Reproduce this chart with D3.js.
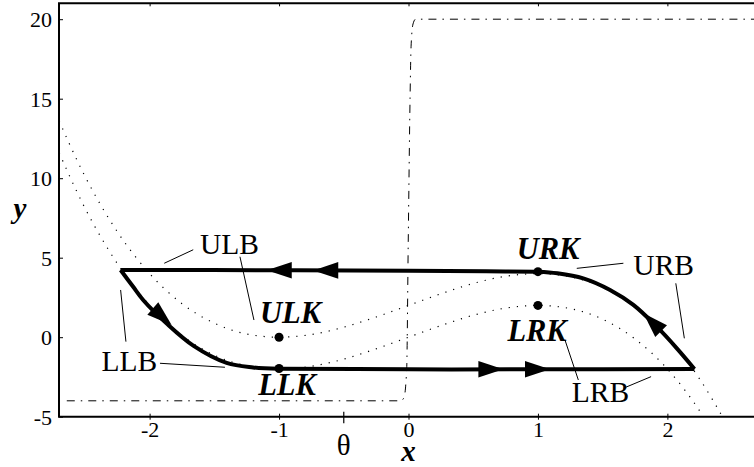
<!DOCTYPE html>
<html>
<head>
<meta charset="utf-8">
<script src="https://cdn.jsdelivr.net/npm/d3@7/dist/d3.min.js"></script>
<style>
  body { margin: 0; background: #fff; }
  svg { display: block; }
  text { font-family: "Liberation Serif", "Times New Roman", serif; fill: #000; }
</style>
</head>
<body>
<div id="chart"></div>
<script>
var xTicks = [-2, -1, 0, 1, 2];
var yTicks = [-5, 0, 5, 10, 15, 20];
var thetaTick = -0.5;

// dotted nullclines
var upperNull = [[-2.75, 14.55], [-2.5, 10.13], [-2.25, 6.64], [-2.0, 4.0], [-1.75, 2.11], [-1.5, 0.88],
  [-1.25, 0.2], [-1.0, 0.0], [-0.75, 0.17], [-0.5, 0.63], [-0.25, 1.27], [0, 2.0], [0.25, 2.73],
  [0.5, 3.38], [0.75, 3.83], [1.0, 4.0], [1.25, 3.8], [1.5, 3.13], [1.75, 1.89], [2.0, 0.0],
  [2.25, -2.64], [2.45, -5.35]];
var lowerNull = [[-2.75, 12.55], [-2.5, 8.13], [-2.25, 4.64], [-2.0, 2.0], [-1.75, 0.11], [-1.5, -1.13],
  [-1.25, -1.8], [-1.0, -2.0], [-0.75, -1.83], [-0.5, -1.38], [-0.25, -0.73], [0, 0.0], [0.25, 0.73],
  [0.5, 1.38], [0.75, 1.83], [1.0, 2.0], [1.25, 1.8], [1.5, 1.13], [1.75, -0.11], [2.0, -2.0],
  [2.25, -4.64], [2.35, -5.93]];

// dash-dot step
var stepCurve = [[-2.64, -4], [-0.06, -4], [-0.035, -3.8], [-0.014, -2], [-0.002, 6], [0.012, 15],
  [0.02, 18.3], [0.035, 19.7], [0.055, 20], [2.75, 20]];

// thick cycle, four pieces
var topEdge = [[1.0, 4.12], [0.6, 4.14], [0, 4.18], [-1, 4.21], [-2.224, 4.23]];
var leftBranch = [[-2.224, 4.23], [-2.13, 3.2], [-2.05, 2.34], [-1.87, 0.87], [-1.66, -0.55],
  [-1.405, -1.62], [-1.2, -1.9], [-1.0, -1.98]];
var bottomEdge = [[-1.0, -1.98], [0, -2.02], [1, -2.02], [2.209, -2.0]];
var rightBranch = [[2.209, -2.0], [2.073, -0.7], [1.918, 0.66], [1.737, 2.03], [1.557, 2.97],
  [1.35, 3.7], [1.15, 4.02], [1.0, 4.12]];

// arrow tip and a point behind it
var arrows = [[-1.095, 4.21, -0.9, 4.21], [-0.736, 4.2, -0.5, 4.2],
  [0.733, -2.02, 0.5, -2.02], [1.093, -2.02, 0.9, -2.02],
  [-1.83, 0.77, -2.05, 2.34], [1.815, 1.5, 1.918, 0.66]];

var points = [[-1, 0], [1, 4.12], [1, 2], [-1, -1.97]];

var kneeLabels = [["ULK", -1.147, 0.87], ["URK", 0.836, 4.9], ["LRK", 0.764, -0.22], ["LLK", -1.161, -3.64]];
var branchLabels = [["ULB", -1.611, 5.23], ["URB", 1.737, 3.91], ["LLB", -2.371, -2.11], ["LRB", 1.261, -4.06]];

var leaders = [
  [[-1.887, 4.65], [-1.663, 5.5]],
  [[-1.302, 5.06], [-1.194, 1.08]],
  [[-2.224, 2.97], [-2.183, -0.28]],
  [[-1.92, -1.64], [-1.418, -1.89]],
  [[1.3, 4.33], [1.66, 4.65]],
  [[2.065, 3.39], [2.131, -0.07]],
  [[1.209, -0.18], [1.312, -2.69]],
  [[1.66, -3.21], [1.874, -2.48]]
];

var width = 754, height = 467;

var svg = d3.select('#chart')
  .append('svg')
  .attr('width', width)
  .attr('height', height);

var x = d3.scaleLinear().domain([-2.7, 2.7]).range([59, 758]);
var y = d3.scaleLinear().domain([-5, 21]).range([416.7, 3.3]);

svg.append('clipPath')
  .attr('id', 'plot')
  .append('rect')
  .attr('x', x(-2.7))
  .attr('y', y(21))
  .attr('width', x(2.7) - x(-2.7))
  .attr('height', y(-5) - y(21));

var line = d3.line()
  .x(function(d) { return x(d[0]); })
  .y(function(d) { return y(d[1]); });

var g = svg.append('g').attr('clip-path', 'url(#plot)');

g.selectAll('path.null')
  .data([upperNull, lowerNull])
  .enter()
  .append('path')
  .attr('class', 'null')
  .attr('d', line.curve(d3.curveMonotoneX))
  .attr('fill', 'none')
  .attr('stroke', '#000')
  .attr('stroke-width', 1.2)
  .attr('stroke-dasharray', '1.2,7');

g.append('path')
  .datum(stepCurve)
  .attr('d', line.curve(d3.curveMonotoneX))
  .attr('fill', 'none')
  .attr('stroke', '#000')
  .attr('stroke-width', 1)
  .attr('stroke-dasharray', '8,6,1.5,6');

g.selectAll('path.cycle')
  .data([topEdge, leftBranch, bottomEdge, rightBranch])
  .enter()
  .append('path')
  .attr('class', 'cycle')
  .attr('d', line.curve(d3.curveCatmullRom.alpha(0.5)))
  .attr('fill', 'none')
  .attr('stroke', '#000')
  .attr('stroke-width', 4)
  .attr('stroke-linejoin', 'miter');

g.selectAll('path.arrow')
  .data(arrows)
  .enter()
  .append('path')
  .attr('class', 'arrow')
  .attr('d', 'M0,0L-25,-8.3L-25,8.3Z')
  .attr('transform', function(d) {
    var tx = x(d[0]), ty = y(d[1]);
    var a = Math.atan2(ty - y(d[3]), tx - x(d[2])) * 180 / Math.PI;
    return 'translate(' + tx + ',' + ty + ') rotate(' + a + ')';
  })
  .attr('fill', '#000');

g.selectAll('circle')
  .data(points)
  .enter()
  .append('circle')
  .attr('cx', function(d) { return x(d[0]); })
  .attr('cy', function(d) { return y(d[1]); })
  .attr('r', 4.5)
  .attr('fill', '#000');

svg.selectAll('line.leader')
  .data(leaders)
  .enter()
  .append('line')
  .attr('class', 'leader')
  .attr('x1', function(d) { return x(d[0][0]); })
  .attr('y1', function(d) { return y(d[0][1]); })
  .attr('x2', function(d) { return x(d[1][0]); })
  .attr('y2', function(d) { return y(d[1][1]); })
  .attr('stroke', '#000')
  .attr('stroke-width', 1);

svg.selectAll('text.knee')
  .data(kneeLabels)
  .enter()
  .append('text')
  .attr('class', 'knee')
  .attr('x', function(d) { return x(d[1]); })
  .attr('y', function(d) { return y(d[2]); })
  .style('font-size', '30.5px')
  .style('font-weight', 'bold')
  .style('font-style', 'italic')
  .text(function(d) { return d[0]; });

svg.selectAll('text.branch')
  .data(branchLabels)
  .enter()
  .append('text')
  .attr('class', 'branch')
  .attr('x', function(d) { return x(d[1]); })
  .attr('y', function(d) { return y(d[2]); })
  .style('font-size', '29.5px')
  .text(function(d) { return d[0]; });

// frame
svg.append('path')
  .attr('d', 'M' + x(2.8) + ',' + y(21) + 'H' + x(-2.7) + 'V' + y(-5) + 'H' + x(2.8))
  .attr('fill', 'none')
  .attr('stroke', '#000')
  .attr('stroke-width', 2);

var xAxis = svg.append('g')
  .attr('transform', 'translate(0,' + y(-5) + ')')
  .call(d3.axisBottom(x).tickValues(xTicks).tickSize(3).tickFormat(d3.format('d')));
xAxis.select('.domain').remove();
xAxis.selectAll('.tick line').attr('y1', -3).attr('y2', 3).attr('stroke-width', 1);
xAxis.selectAll('.tick text')
  .attr('y', 20)
  .attr('dy', 0)
  .style('font-family', '"Liberation Serif", serif')
  .style('font-size', '22px')
  .text(function(d) { return String(d); });

svg.append('line')
  .attr('x1', x(thetaTick)).attr('x2', x(thetaTick))
  .attr('y1', y(-5) - 5).attr('y2', y(-5) + 6.5)
  .attr('stroke', '#000')
  .attr('stroke-width', 1.2);

svg.append('text')
  .attr('x', x(thetaTick))
  .attr('y', 455)
  .attr('text-anchor', 'middle')
  .style('font-size', '29px')
  .text('θ');

var topAxis = svg.append('g')
  .attr('transform', 'translate(0,' + y(21) + ')')
  .call(d3.axisBottom(x).tickValues(xTicks).tickSize(3).tickFormat(''));
topAxis.select('.domain').remove();

var yAxis = svg.append('g')
  .attr('transform', 'translate(' + x(-2.7) + ',0)')
  .call(d3.axisRight(y).tickValues(yTicks).tickSize(4).tickFormat(d3.format('d')));
yAxis.select('.domain').remove();
yAxis.selectAll('.tick text')
  .attr('x', -7)
  .attr('dy', '0.34em')
  .attr('text-anchor', 'end')
  .style('font-family', '"Liberation Serif", serif')
  .style('font-size', '22px')
  .text(function(d) { return String(d); });

svg.append('text')
  .attr('x', x(0))
  .attr('y', 461)
  .attr('text-anchor', 'middle')
  .style('font-size', '29px')
  .style('font-weight', 'bold')
  .style('font-style', 'italic')
  .text('x');

svg.append('text')
  .attr('x', 20)
  .attr('y', y(7.5))
  .attr('text-anchor', 'middle')
  .style('font-size', '29px')
  .style('font-weight', 'bold')
  .style('font-style', 'italic')
  .text('y');
</script>
</body>
</html>
